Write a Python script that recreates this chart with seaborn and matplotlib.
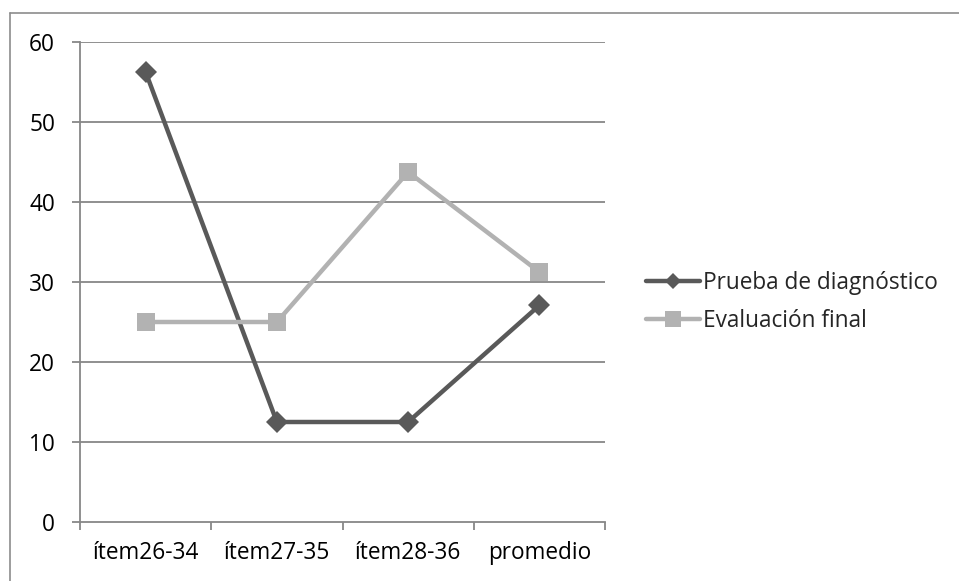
import matplotlib
matplotlib.use("Agg")
import matplotlib.pyplot as plt
from matplotlib.lines import Line2D
from matplotlib.ticker import FixedLocator, NullFormatter
import seaborn as sns
import pandas as pd

# Data
categories = ["ítem26-34", "ítem27-35", "ítem28-36", "promedio"]
prueba_diagnostico = [56.25, 12.5, 12.5, 27.08]
evaluacion_final = [25.0, 25.0, 43.75, 31.25]
series_names = ["Prueba de diagnóstico", "Evaluación final"]
y_ticks = [0, 10, 20, 30, 40, 50, 60]

df = pd.DataFrame({
    "pos": list(range(len(categories))) * 2,
    "valor": prueba_diagnostico + evaluacion_final,
    "serie": [series_names[0]] * len(categories) + [series_names[1]] * len(categories),
})

sns.set_style("white")
plt.rcParams["font.family"] = ["Open Sans", "DejaVu Sans"]

FS = 16.3
W, H = 959, 581
fig = plt.figure(figsize=(W / 100, H / 100), dpi=100)
ax = fig.add_axes([80 / W, 1 - 522 / H, (605 - 80) / W, (522 - 42) / H])

dark = "#595959"
light = "#b2b2b2"
grid_c = "#878787"

sns.lineplot(data=df, x="pos", y="valor", hue="serie", style="serie",
             palette={series_names[0]: dark, series_names[1]: light},
             markers={series_names[0]: "D", series_names[1]: "s"},
             dashes=False, linewidth=3.2, markeredgewidth=0,
             ax=ax, legend=False, zorder=3)
for ln, ms in zip(ax.get_lines(), [11, 13]):
    ln.set_markersize(ms)

ax.set_xlim(-0.5, len(categories) - 0.5)
ax.set_ylim(0, 60)
ax.set_xlabel("")
ax.set_ylabel("")

# Horizontal gridlines
ax.set_yticks(y_ticks)
ax.set_yticklabels([str(v) for v in y_ticks])
for v in y_ticks[1:]:
    ax.axhline(v, color=grid_c, linewidth=1.3, zorder=1)

# Category boundaries as tick marks, labels at category centres
ax.xaxis.set_major_locator(FixedLocator([i - 0.5 for i in range(len(categories) + 1)]))
ax.xaxis.set_major_formatter(NullFormatter())
ax.set_xticks(list(range(len(categories))), minor=True)
ax.set_xticklabels(categories, minor=True)
ax.tick_params(axis="x", which="major", direction="out", length=6, width=1.3,
               color=grid_c, bottom=True)
ax.tick_params(axis="x", which="minor", length=0, pad=14, labelsize=FS,
               labelcolor="black", bottom=True)
ax.tick_params(axis="y", direction="out", length=6, width=1.3, color=grid_c,
               pad=12, labelsize=FS, labelcolor="black", left=True)

for side in ["top", "right"]:
    ax.spines[side].set_visible(False)
for side in ["left", "bottom"]:
    ax.spines[side].set_color(grid_c)
    ax.spines[side].set_linewidth(1.3)

handles = [
    Line2D([], [], color=dark, linewidth=3.2, marker="D", markersize=8.5, markeredgewidth=0),
    Line2D([], [], color=light, linewidth=3.2, marker="s", markersize=11, markeredgewidth=0),
]
fig.legend(handles, series_names, loc="center left",
           bbox_to_anchor=(626 / W, 1 - 302 / H), frameon=False,
           fontsize=FS, handlelength=2.35, handletextpad=0.15,
           labelspacing=0.62)

# Chart border
fig.add_artist(Line2D([10 / W, 1.0], [1 - 13 / H, 1 - 13 / H], transform=fig.transFigure,
                      color="#8c8c8c", linewidth=1.2))
fig.add_artist(Line2D([10 / W, 10 / W], [0.0, 1 - 13 / H], transform=fig.transFigure,
                      color="#8c8c8c", linewidth=1.2))

fig.savefig("out.png", dpi=100, facecolor="white")
